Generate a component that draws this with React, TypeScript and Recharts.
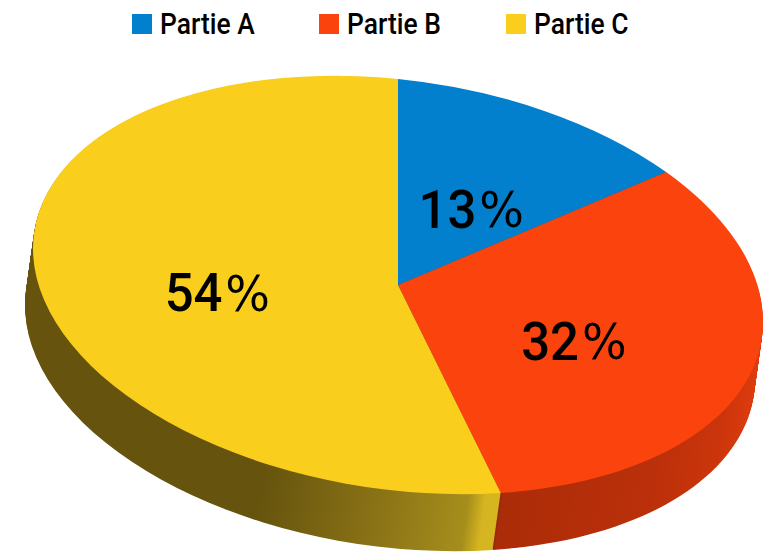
import { PieChart, Pie, Sector, Legend } from "recharts";

const parties = ["Partie A", "Partie B", "Partie C"];
const shares = [13, 32, 54];
const topColors = ["#0280ce", "#fb430d", "#f9ce1d"];
const rimColors = ["url(#rimBlue)", "url(#rimRed)", "url(#rimYellow)"];

const sliceData = parties.map((name, i) => ({ name, value: shares[i], fill: topColors[i] }));
const rimData = parties.map((name, i) => ({ name, value: shares[i], fill: rimColors[i] }));

const CX = 398;
const CY = 285;
const R = 365;
const RY = 206;
const SKEW = 0.1; // the disc is tilted, right side lower than left
const RIM_SHIFT = { x: -8, y: 57 };
const RIM_STEPS = 70;
const LABEL_DROP = 12;

const discTransform = (t: number, px: number, py: number) =>
  `translate(${CX + RIM_SHIFT.x * t} ${CY + RIM_SHIFT.y * t}) matrix(1 ${SKEW} 0 ${RY / R} 0 0) translate(${-px} ${-py})`;

const squashed = (t: number) => (props: any) => (
  <g transform={discTransform(t, props.cx, props.cy)}>
    <Sector {...props} stroke="none" />
  </g>
);

const renderLabel = (props: any) => {
  const rad = (props.midAngle * Math.PI) / 180;
  const dx = 0.5 * R * Math.cos(rad);
  const x = CX + dx;
  const y = CY - 0.5 * RY * Math.sin(rad) + SKEW * dx + LABEL_DROP;
  return (
    <text
      transform={`translate(${x} ${y}) scale(0.96 1)`}
      textAnchor="middle"
      dominantBaseline="central"
      fill="#000"
      fontFamily="Roboto"
      fontWeight={500}
      fontSize={53}
    >
      {shares[props.index]}
      <tspan dx={3} fontFamily="DejaVu Sans" fontWeight={400} fontSize={49}>%</tspan>
    </text>
  );
};

const renderLegend = (props: any) => (
  <div style={{ display: "flex", fontFamily: "Roboto", fontWeight: 500, fontSize: 30, color: "#000", lineHeight: "48px" }}>
    {(props.payload || [])
      .filter((item: any) => !String(item.color).startsWith("url"))
      .map((item: any) => (
        <div key={item.value} style={{ width: 187, display: "flex", alignItems: "center", flex: "none" }}>
          <span style={{ width: 20, height: 20, marginRight: 8, background: item.color, display: "inline-block", flex: "none" }} />
          <span style={{ display: "inline-block", transform: "scaleX(0.88)", transformOrigin: "left center", whiteSpace: "nowrap" }}>{item.value}</span>
        </div>
      ))}
  </div>
);

export default function App() {
  const rimLayers = Array.from({ length: RIM_STEPS }, (_, i) => 1 - i / RIM_STEPS);
  return (
    <div style={{ position: "absolute", left: 0, top: 0, width: 764, height: 552, overflow: "hidden", background: "#fff" }}>
      <PieChart width={764} height={552} margin={{ top: 0, right: 0, bottom: 0, left: 0 }}>
        <defs>
          <linearGradient id="rimYellow" gradientUnits="userSpaceOnUse" x1={25} x2={505} y1={0} y2={0}>
            <stop offset="0" stopColor="#66530e" />
            <stop offset="0.5" stopColor="#66540e" />
            <stop offset="0.74" stopColor="#8a7216" />
            <stop offset="0.925" stopColor="#a68e1c" />
            <stop offset="0.96" stopColor="#d4b420" />
            <stop offset="1" stopColor="#d8b820" />
          </linearGradient>
          <linearGradient id="rimRed" gradientUnits="userSpaceOnUse" x1={498} x2={765} y1={0} y2={0}>
            <stop offset="0" stopColor="#7a2006" />
            <stop offset="0.02" stopColor="#ab2c08" />
            <stop offset="0.6" stopColor="#bb300a" />
            <stop offset="0.85" stopColor="#cc350c" />
            <stop offset="1" stopColor="#e03c0e" />
          </linearGradient>
          <linearGradient id="rimBlue" gradientUnits="userSpaceOnUse" x1={398} x2={670} y1={0} y2={0}>
            <stop offset="0" stopColor="#025a90" />
            <stop offset="1" stopColor="#025a90" />
          </linearGradient>
        </defs>
        {rimLayers.map((t) => (
          <Pie
            key={t}
            data={rimData}
            dataKey="value"
            nameKey="name"
            cx={CX}
            cy={CY}
            outerRadius={R}
            startAngle={90}
            endAngle={-270}
            stroke="none"
            legendType="none"
            shape={squashed(t)}
            isAnimationActive={false}
          />
        ))}
        <Pie
          data={sliceData}
          dataKey="value"
          nameKey="name"
          cx={CX}
          cy={CY}
          outerRadius={R}
          startAngle={90}
          endAngle={-270}
          stroke="none"
          shape={squashed(0)}
          label={renderLabel}
          labelLine={false}
          isAnimationActive={false}
        />
        <Legend content={renderLegend} layout="horizontal" verticalAlign="top" wrapperStyle={{ top: 0, left: 132, width: 600 }} />
      </PieChart>
    </div>
  );
}
